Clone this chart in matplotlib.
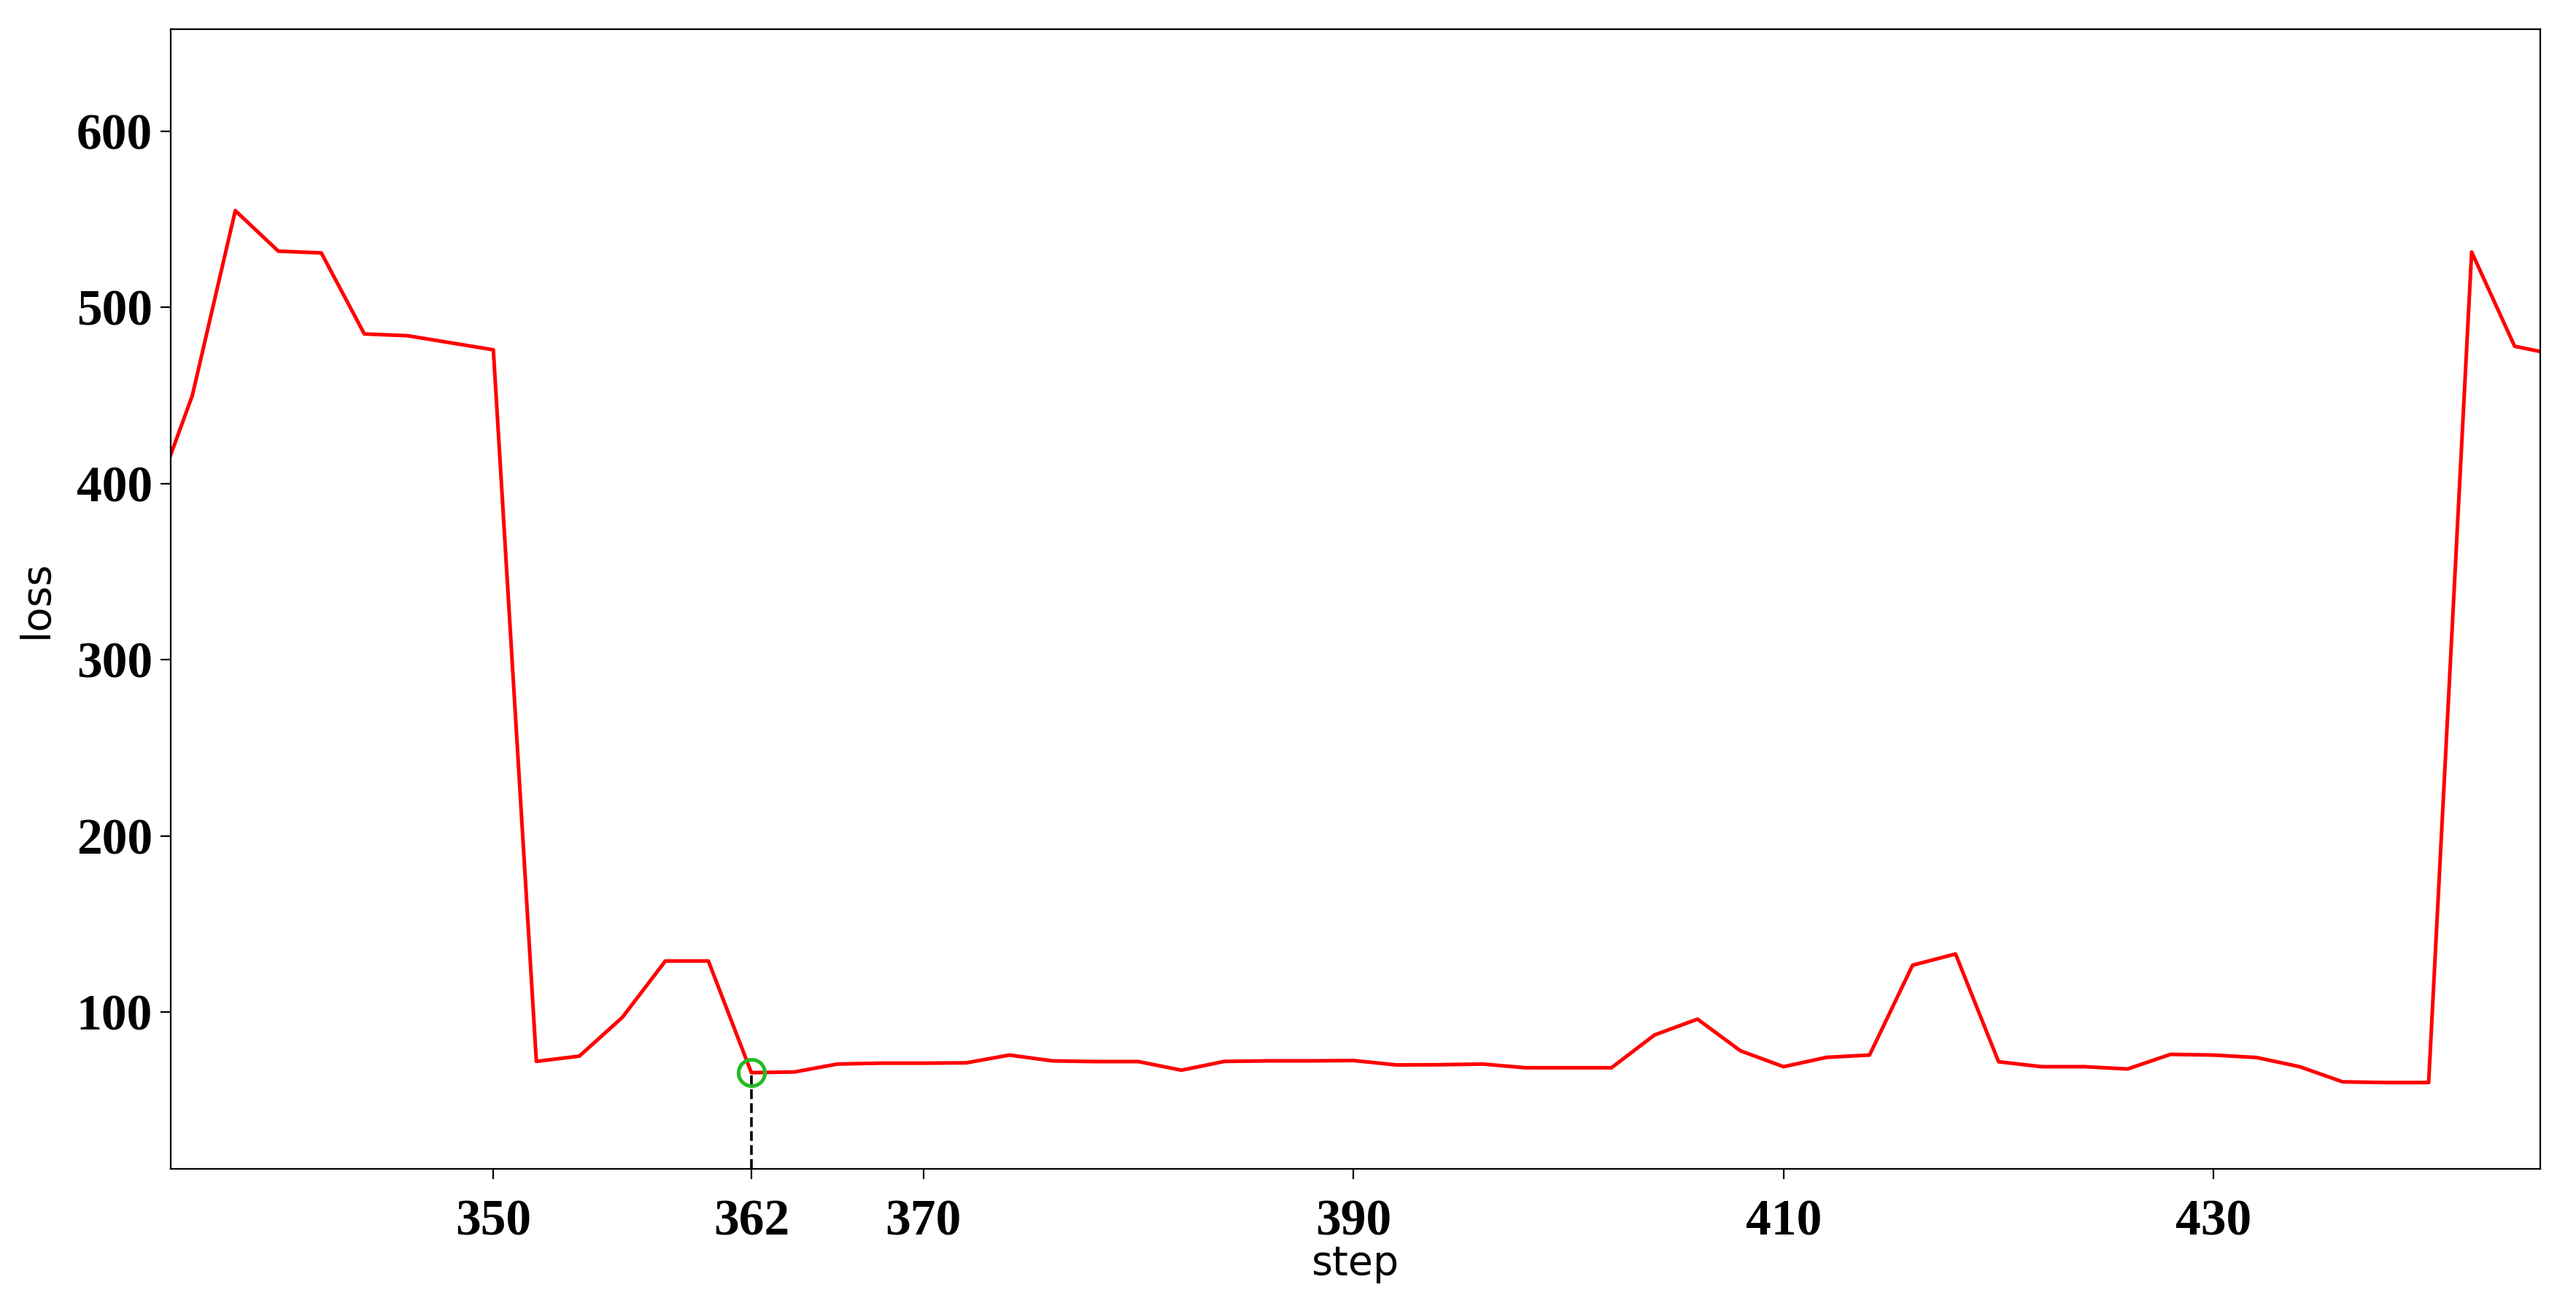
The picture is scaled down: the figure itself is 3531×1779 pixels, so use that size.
import numpy as np
import matplotlib
matplotlib.use('Agg')
import matplotlib.pyplot as plt

# кроки навчання і значення loss
steps = np.arange(334, 448, 2)
loss = [383, 450, 555, 532, 531, 485, 484, 480, 476, 72,
        75, 97, 129, 129, 65.6, 66, 70.5, 71, 71, 71.2,
        75.6, 72.3, 71.9, 71.9, 67, 72, 72.3, 72.3, 72.5, 70,
        70.1, 70.5, 68.4, 68.4, 68.4, 87, 96, 78, 69, 74.3,
        75.6, 126.6, 133, 71.8, 69, 69, 67.7, 76, 75.6, 74.2,
        69, 60.4, 60, 60, 531.5, 478, 473]

best_step = 362
best_loss = 65.6

x_ticks = [350, 362, 370, 390, 410, 430]
y_ticks = [100, 200, 300, 400, 500, 600]


def main():
    fig = plt.figure(figsize=(17.655, 8.895), dpi=200)
    ax = fig.add_axes([0.0663, 0.0995, 0.9199, 0.878])

    ax.plot(steps, loss, color='red', linewidth=1.8)
    ax.set_xlim(335.0, 445.2)
    ax.set_ylim(11, 658)

    # позначка мінімуму і пунктир до осі
    ax.vlines(best_step, 11, best_loss, colors='black', linestyles='--', linewidth=1.3)
    ax.plot([best_step], [best_loss], marker='o', markersize=13, markerfacecolor='none',
            markeredgecolor='#22bb22', markeredgewidth=1.8)

    ax.set_xticks(x_ticks)
    ax.set_yticks(y_ticks)
    for lab in ax.get_xticklabels() + ax.get_yticklabels():
        lab.set_fontfamily('Liberation Serif')
        lab.set_fontweight('bold')
        lab.set_fontsize(25)
    ax.tick_params(axis='x', pad=10, length=5)
    ax.tick_params(axis='y', pad=4, length=5)

    ax.set_xlabel('step', fontsize=20, labelpad=-1)
    ax.set_ylabel('loss', fontsize=20, labelpad=10)

    fig.savefig('out.png', dpi=200)


if __name__ == '__main__':
    main()
